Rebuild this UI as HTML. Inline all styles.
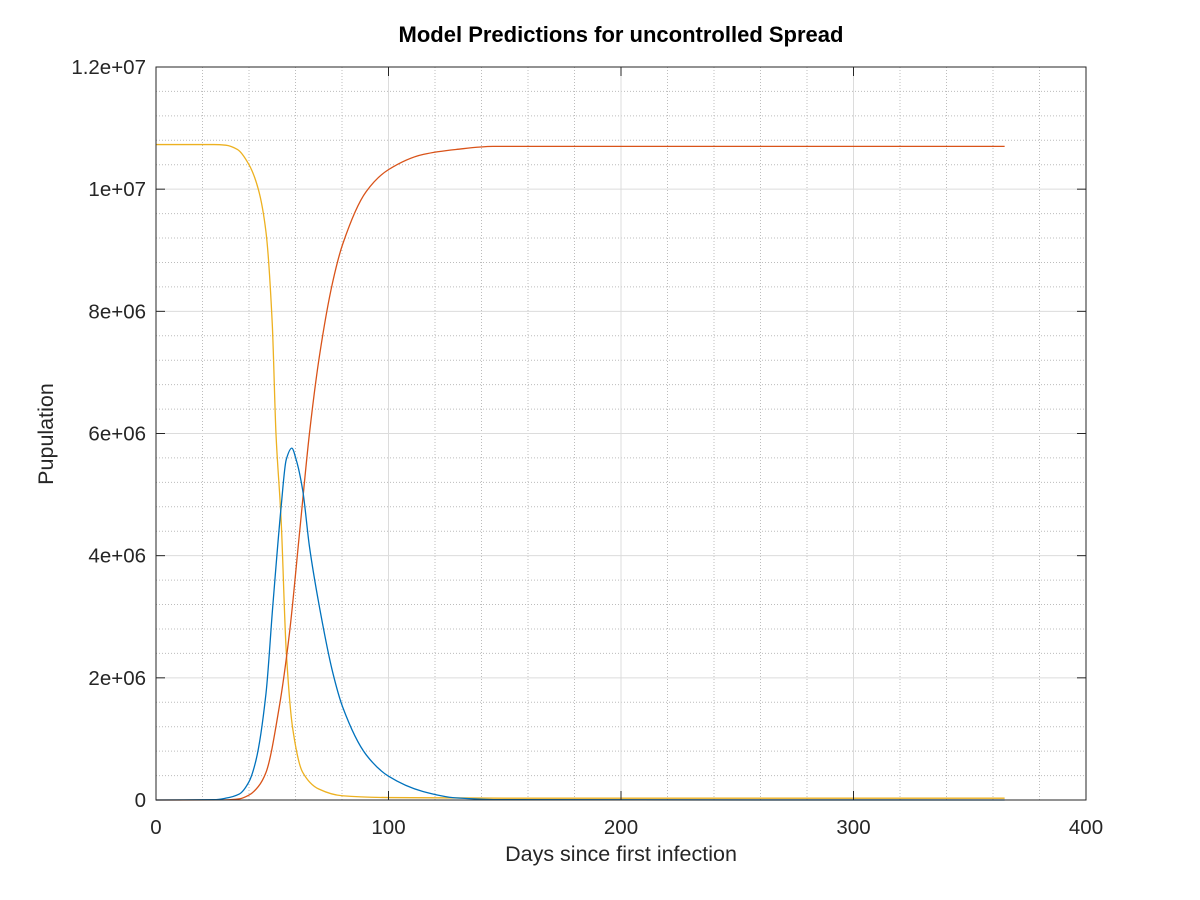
<!DOCTYPE html>
<html><head><meta charset="utf-8"><style>
html,body{margin:0;padding:0;background:#fff;}
svg{display:block;font-family:"Liberation Sans",sans-serif;}
</style></head><body>
<svg id="chart" width="1200" height="900" xmlns="http://www.w3.org/2000/svg">
<rect width="1200" height="900" fill="#fff"/>
<text x="621" y="42" text-anchor="middle" font-size="22" font-weight="bold" fill="#000">Model Predictions for uncontrolled Spread</text>
<g id="grid"></g>
<g id="series"></g>
<g id="axes"></g>
<text x="621" y="861" text-anchor="middle" font-size="21.5" fill="#262626">Days since first infection</text>
<text transform="translate(53,434) rotate(-90)" text-anchor="middle" font-size="21.5" fill="#262626">Pupulation</text>
</svg>
<script>
const xTicks = [0, 100, 200, 300, 400];
const yTicks = [0, 2e6, 4e6, 6e6, 8e6, 1e7, 1.2e7];
const yTickLabels = ["0", "2e+06", "4e+06", "6e+06", "8e+06", "1e+07", "1.2e+07"];
const sDays = [0, 25, 30, 35, 40, 44, 47.3, 50, 51.6, 53.8, 56, 58.8, 63, 70, 80, 100, 150, 365];
const sVals = [1.073e7, 1.073e7, 1.072e7, 1.065e7, 1.04e7, 1.0e7, 9.3e6, 7.8e6, 6.0e6, 4.6e6, 2.45e6, 1.17e6, 4.6e5, 1.8e5, 7e4, 4e4, 3e4, 3e4];
const iDays = [0, 25, 30, 35.9, 40, 43, 47.3, 50.2, 53.8, 56, 58.4, 60.3, 63.1, 66, 70.3, 76, 80.3, 90.4, 100, 114.8, 129, 150, 365];
const iVals = [0, 5e3, 3e4, 1e5, 3e5, 6.5e5, 1.74e6, 3.16e6, 4.79e6, 5.57e6, 5.76e6, 5.57e6, 5.07e6, 4.15e6, 3.16e6, 2.09e6, 1.52e6, 7.4e5, 3.9e5, 1.4e5, 3.5e4, 5e3, 0];
const rDays = [0, 30, 36, 40, 44, 47.3, 53, 57.4, 61.7, 66, 70.3, 76, 80.3, 90.4, 100, 115, 129, 145, 365];
const rVals = [0, 2e3, 2e4, 8e4, 2.2e5, 4.5e5, 1.52e6, 2.73e6, 4.36e6, 6.0e6, 7.27e6, 8.48e6, 9.1e6, 9.96e6, 1.032e7, 1.057e7, 1.065e7, 1.07e7, 1.07e7];

const NS = "http://www.w3.org/2000/svg";
const X0 = 156, X1 = 1086, Y0 = 800, Y1 = 67;
const xs = d => X0 + (d - 0) / 400 * (X1 - X0);
const ys = v => Y0 - v / 1.2e7 * (Y0 - Y1);
function mk(tag, attrs, parent) {
  const el = document.createElementNS(NS, tag);
  for (const k in attrs) el.setAttribute(k, attrs[k]);
  parent.appendChild(el);
  return el;
}
const grid = document.getElementById('grid');
const axes = document.getElementById('axes');
const series = document.getElementById('series');
for (let d = 20; d < 400; d += 20) {
  if (d % 100 === 0) continue;
  const l = mk('line', {x1: xs(d), x2: xs(d), y1: Y1, y2: Y0, stroke: '#bcbcbc', 'stroke-width': 1, 'stroke-dasharray': '1,2'}, grid);
  
  
}
for (let v = 4e5; v < 1.2e7; v += 4e5) {
  if (Math.abs(v / 2e6 - Math.round(v / 2e6)) < 1e-6) continue;
  const l = mk('line', {x1: X0, x2: X1, y1: ys(v), y2: ys(v), stroke: '#bcbcbc', 'stroke-width': 1, 'stroke-dasharray': '1,2'}, grid);
  
  
}
xTicks.forEach(d => {
  const l = mk('line', {x1: xs(d), x2: xs(d), y1: Y1, y2: Y0, stroke: '#dcdcdc', 'stroke-width': 1}, grid);
  
  
  mk('line', {x1: xs(d), x2: xs(d), y1: Y0, y2: Y0 - 9, stroke: '#262626'}, axes);
  mk('line', {x1: xs(d), x2: xs(d), y1: Y1, y2: Y1 + 9, stroke: '#262626'}, axes);
  const t = mk('text', {x: xs(d), y: Y0 + 34, 'text-anchor': 'middle', 'font-size': 20.5, fill: '#262626'}, axes);
  t.textContent = String(d);
  
  
});
yTicks.forEach((v, i) => {
  const l = mk('line', {x1: X0, x2: X1, y1: ys(v), y2: ys(v), stroke: '#dcdcdc', 'stroke-width': 1}, grid);
  
  
  mk('line', {x1: X0, x2: X0 + 9, y1: ys(v), y2: ys(v), stroke: '#262626'}, axes);
  mk('line', {x1: X1, x2: X1 - 9, y1: ys(v), y2: ys(v), stroke: '#262626'}, axes);
  const t = mk('text', {x: X0 - 10, y: ys(v) + 7, 'text-anchor': 'end', 'font-size': 20.5, fill: '#262626'}, axes);
  t.textContent = yTickLabels[i];
  
  
});
const frame = mk('rect', {x: X0, y: Y1, width: X1 - X0, height: Y0 - Y1, fill: 'none', stroke: '#262626', 'stroke-width': 1}, axes);



function path(xd, yd) {
  const n = xd.length, dx = [], m = [], sl = [];
  for (let i = 0; i < n - 1; i++) { dx[i] = xd[i+1] - xd[i]; sl[i] = (yd[i+1] - yd[i]) / dx[i]; }
  m[0] = sl[0]; m[n-1] = sl[n-2];
  for (let i = 1; i < n - 1; i++) {
    if (sl[i-1] * sl[i] <= 0) m[i] = 0;
    else { const w1 = 2*dx[i] + dx[i-1], w2 = dx[i] + 2*dx[i-1]; m[i] = (w1 + w2) / (w1/sl[i-1] + w2/sl[i]); }
  }
  let p = 'M' + xs(xd[0]).toFixed(2) + ',' + ys(yd[0]).toFixed(2);
  for (let i = 0; i < n - 1; i++) {
    const h = dx[i];
    p += ' C' + xs(xd[i] + h/3).toFixed(2) + ',' + ys(yd[i] + m[i]*h/3).toFixed(2) + ' ' +
      xs(xd[i+1] - h/3).toFixed(2) + ',' + ys(yd[i+1] - m[i+1]*h/3).toFixed(2) + ' ' +
      xs(xd[i+1]).toFixed(2) + ',' + ys(yd[i+1]).toFixed(2);
  }
  return p;
}
const sLine = mk('path', {d: path(sDays, sVals), fill: 'none', stroke: '#EDB120', 'stroke-width': 1.3}, series);


const rLine = mk('path', {d: path(rDays, rVals), fill: 'none', stroke: '#D95319', 'stroke-width': 1.3}, series);


const iLine = mk('path', {d: path(iDays, iVals), fill: 'none', stroke: '#0072BD', 'stroke-width': 1.3}, series);


</script>
</body></html>
